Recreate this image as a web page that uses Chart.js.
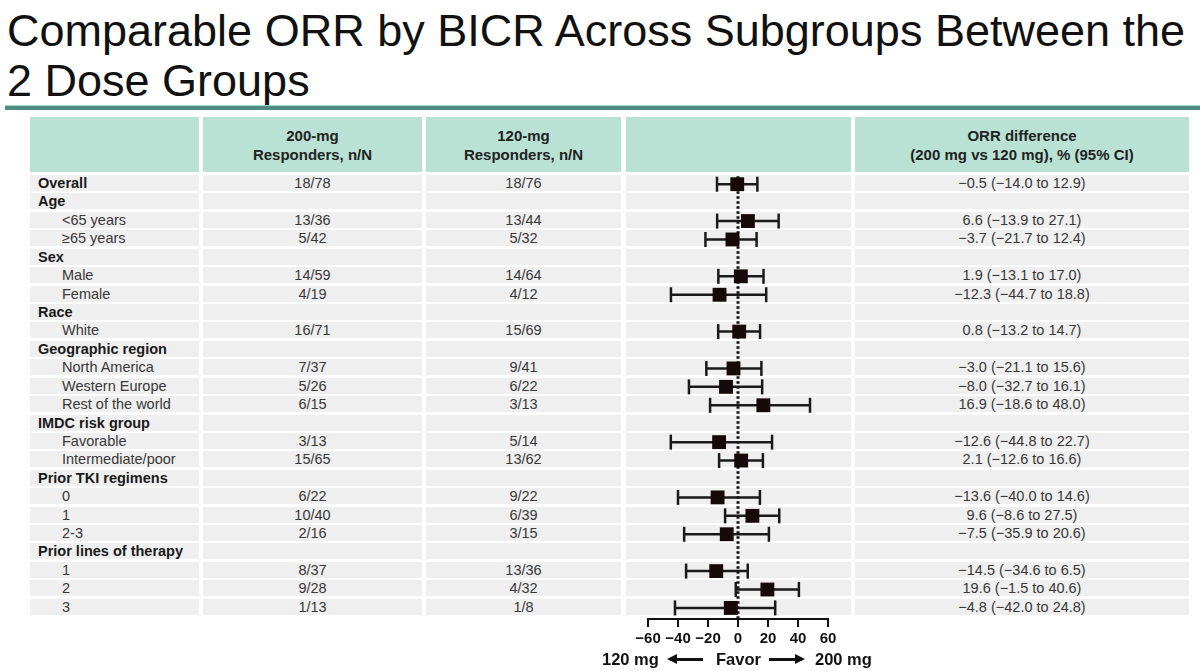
<!DOCTYPE html>
<html>
<head>
<meta charset="utf-8">
<title>ORR by subgroup</title>
<script src="https://cdn.jsdelivr.net/npm/chart.js@4.4.0/dist/chart.umd.min.js"></script>
<style>
body { margin:0; background:#fff; font-family:"Liberation Sans", Arial, sans-serif; color:#222; width:1200px; height:671px; overflow:hidden; position:relative; }
h1 { position:absolute; left:7px; top:6px; margin:0; font-weight:normal; font-size:45px; line-height:50px; color:#111; letter-spacing:0; }
.rule { position:absolute; left:5px; top:105px; width:1195px; height:4px; background:#4f8c84; border-top:1px solid #a6d6cc; }
.hd { position:absolute; top:117px; height:55px; background:#b9e2d5; font-weight:bold; font-size:15px; line-height:19px; color:#222; display:flex; align-items:center; justify-content:center; text-align:center; }
.cell { position:absolute; height:16px; line-height:17px; background:#efefef; font-size:14.5px; color:#383838; text-align:center; white-space:nowrap; }
.lab { text-align:left; }
#forest { position:absolute; left:578px; top:175px; }
.fav { position:absolute; top:650px; font-weight:bold; font-size:16.5px; line-height:19px; color:#111; }
.arr { position:absolute; top:658px; width:33px; height:3px; background:#111; }
.arr::after { content:''; position:absolute; top:-4px; border-top:5.5px solid transparent; border-bottom:5.5px solid transparent; }
.arr.l::after { left:-3px; border-right:10px solid #111; }
.arr.r::after { right:-3px; border-left:10px solid #111; }
</style>
</head>
<body>
<h1>Comparable ORR by BICR Across Subgroups Between the<br>2 Dose Groups</h1>
<div class="rule"></div>
<div id="table"></div>
<canvas id="forest" width="320" height="496"></canvas>
<span class="fav" style="left:602px">120 mg</span>
<span class="arr l" style="left:670px"></span>
<span class="fav" style="left:716px">Favor</span>
<span class="arr r" style="left:769px"></span>
<span class="fav" style="left:815px">200 mg</span>
<script>
var labels = ['Overall', 'Age', '<65 years', '≥65 years', 'Sex', 'Male', 'Female', 'Race', 'White',
	'Geographic region', 'North America', 'Western Europe', 'Rest of the world', 'IMDC risk group',
	'Favorable', 'Intermediate/poor', 'Prior TKI regimens', '0', '1', '2-3', 'Prior lines of therapy', '1', '2', '3'];
var level = [0, 0, 1, 1, 0, 1, 1, 0, 1, 0, 1, 1, 1, 0, 1, 1, 0, 1, 1, 1, 0, 1, 1, 1];
var resp200 = ['18/78', '', '13/36', '5/42', '', '14/59', '4/19', '', '16/71', '', '7/37', '5/26', '6/15',
	'', '3/13', '15/65', '', '6/22', '10/40', '2/16', '', '8/37', '9/28', '1/13'];
var resp120 = ['18/76', '', '13/44', '5/32', '', '14/64', '4/12', '', '15/69', '', '9/41', '6/22', '3/13',
	'', '5/14', '13/62', '', '9/22', '6/39', '3/15', '', '13/36', '4/32', '1/8'];
var diff = [-0.5, null, 6.6, -3.7, null, 1.9, -12.3, null, 0.8, null, -3.0, -8.0, 16.9,
	null, -12.6, 2.1, null, -13.6, 9.6, -7.5, null, -14.5, 19.6, -4.8];
var ciLow = [-14.0, null, -13.9, -21.7, null, -13.1, -44.7, null, -13.2, null, -21.1, -32.7, -18.6,
	null, -44.8, -12.6, null, -40.0, -8.6, -35.9, null, -34.6, -1.5, -42.0];
var ciHigh = [12.9, null, 27.1, 12.4, null, 17.0, 18.8, null, 14.7, null, 15.6, 16.1, 48.0,
	null, 22.7, 16.6, null, 14.6, 27.5, 20.6, null, 6.5, 40.6, 24.8];
var xTicks = [-60, -40, -20, 0, 20, 40, 60];

// table columns: left, width
var cols = [[30, 169], [203, 219], [426, 195], [626, 225], [855, 334]];
var heads = ['', '200-mg<br>Responders, n/N', '120-mg<br>Responders, n/N', '', 'ORR difference<br>(200 mg vs 120 mg), % (95% CI)'];
var rowTop = 175, rowH = 18.42;

function fmt(v) {
	return v.toFixed(1).replace('-', '\u2212');
}

var html = '';
for (var c = 0; c < cols.length; c++) {
	html += '<div class="hd" style="left:' + cols[c][0] + 'px;width:' + cols[c][1] + 'px">' + heads[c] + '</div>';
}
for (var i = 0; i < labels.length; i++) {
	var rowY = (rowTop + i * rowH).toFixed(1);
	var txt = [
		labels[i].replace('<', '&lt;'),
		resp200[i],
		resp120[i],
		'',
		diff[i] === null ? '' : fmt(diff[i]) + ' (' + fmt(ciLow[i]) + ' to ' + fmt(ciHigh[i]) + ')'
	];
	for (var c = 0; c < cols.length; c++) {
		var st = 'top:' + rowY + 'px;left:' + cols[c][0] + 'px;width:' + cols[c][1] + 'px;';
		var cls = 'cell';
		if (c == 0) {
			cls += ' lab';
			st += level[i] == 0 ? 'padding-left:8px;width:' + (cols[0][1] - 8) + 'px;font-weight:bold;color:#1a1a1a;' :
				'padding-left:32px;width:' + (cols[0][1] - 32) + 'px;';
		}
		html += '<div class="' + cls + '" style="' + st + '">' + txt[c] + '</div>';
	}
}
document.getElementById('table').innerHTML = html;

var rows = [];
for (var i = 0; i < diff.length; i++) if (diff[i] !== null) rows.push(i);

var datasets = [];
datasets.push({
	type: 'scatter',
	data: rows.map(function(i) { return {x: diff[i], y: i}; }),
	pointStyle: 'rect', pointRadius: 9.8, pointBackgroundColor: '#150909', pointBorderWidth: 0,
	clip: false, order: 0
});
datasets.push({
	type: 'scatter',
	data: rows.reduce(function(a, i) { return a.concat([{x: ciLow[i], y: i}, {x: ciHigh[i], y: i}]); }, []),
	pointStyle: 'line', pointRotation: 90, pointRadius: 7.5, pointBorderColor: '#1a1a1a', pointBorderWidth: 2.5,
	clip: false, order: 1
});
rows.forEach(function(i) {
	datasets.push({
		type: 'line',
		data: [{x: ciLow[i], y: i}, {x: ciHigh[i], y: i}],
		borderColor: '#1a1a1a', borderWidth: 2.5, pointRadius: 0, clip: false, order: 2
	});
});
datasets.push({
	type: 'line',
	data: [{x: 0, y: -0.7}, {x: 0, y: 23.6}],
	borderColor: '#111', borderWidth: 3, borderDash: [2.5, 2.5], pointRadius: 0, clip: false, order: 3
});

var forest = new Chart(document.getElementById('forest'), {
	type: 'scatter',
	data: {datasets: datasets},
	options: {
		responsive: false,
		animation: false,
		layout: {autoPadding: false, padding: {left: 70, right: 70, top: 0, bottom: 0}},
		plugins: {legend: {display: false}, tooltip: {enabled: false}},
		scales: {
			x: {
				type: 'linear', min: -60, max: 60,
				afterBuildTicks: function(s) { s.ticks = xTicks.map(function(v) { return {value: v}; }); },
				afterFit: function(s) { s.height = 52; },
				ticks: {
					color: '#111', padding: 3, maxRotation: 0, autoSkip: false,
					font: {family: '"Liberation Sans", Arial, sans-serif', size: 15, weight: 'bold'},
					callback: function(v) { return String(v).replace('-', '\u2212'); }
				},
				grid: {drawOnChartArea: false, drawTicks: true, tickLength: 8, color: '#111', lineWidth: 2},
				border: {display: true, color: '#111', width: 2}
			},
			y: {type: 'linear', reverse: true, min: -0.5, max: 23.6, display: false}
		}
	}
});
</script>
</body>
</html>
